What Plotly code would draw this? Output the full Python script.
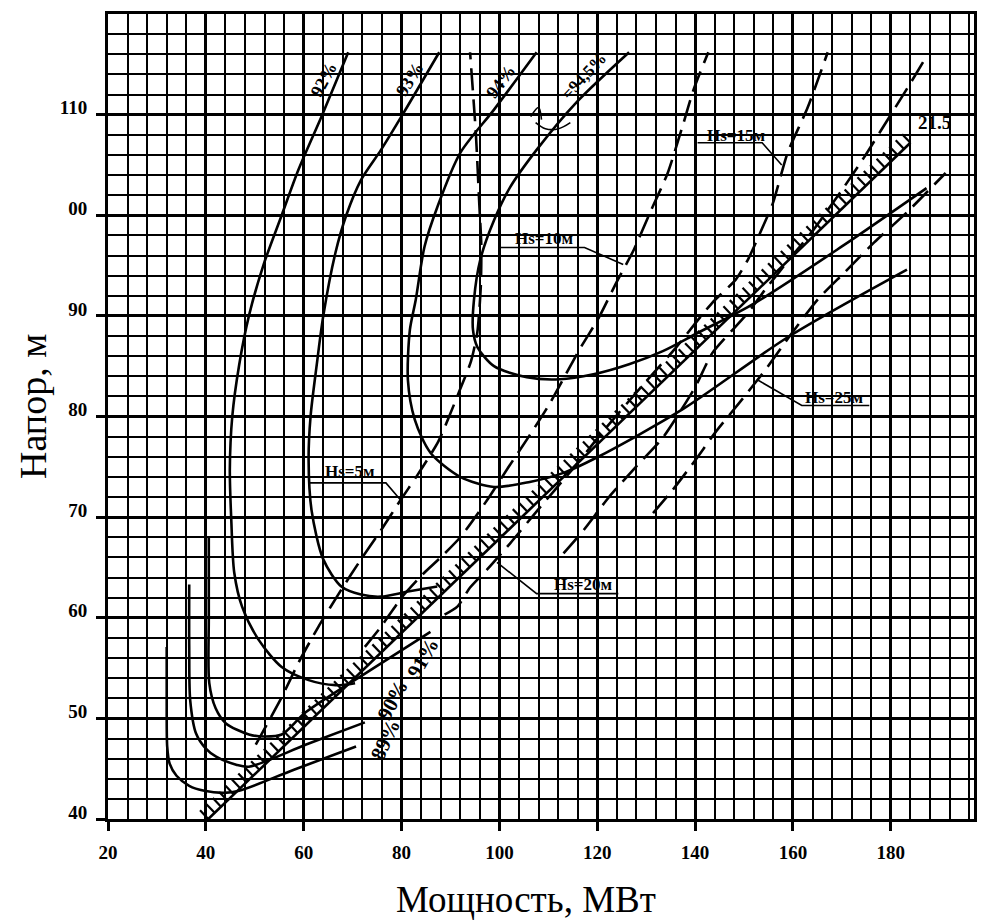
import plotly.graph_objects as go

# --- data ---
x_tick_vals = [20, 40, 60, 80, 100, 120, 140, 160, 180]
y_tick_vals = [40, 50, 60, 70, 80, 90, 100, 110]
y_tick_text = ["40", "50", "60", "70", "80", "90", "00", "110"]

# efficiency isolines (solid)
eff_89_x = [32.0, 32.0, 32.1, 32.6, 34.0, 36.6, 39.7, 43.7, 46.8, 58.0, 70.7]
eff_89_y = [57.1, 51.8, 47.2, 45.5, 44.3, 43.3, 42.8, 42.6, 42.8, 44.9, 47.2]

eff_90_x = [36.6, 36.6, 36.8, 38.0, 40.0, 42.1, 46.2, 48.8, 60.5, 72.5]
eff_90_y = [63.3, 57.0, 51.8, 48.5, 47.0, 46.2, 45.4, 45.2, 47.4, 49.6]

eff_91_x = [40.6, 40.6, 40.7, 42.0, 44.1, 48.8, 52.0, 55.5, 60.4, 73.0, 85.9]
eff_91_y = [68.0, 60.0, 53.5, 51.0, 49.5, 48.4, 48.2, 48.4, 50.6, 54.6, 58.6]

eff_92_x = [69.1, 63.8, 58.9, 55.5, 51.8, 48.8, 46.8, 45.4, 44.9, 45.2, 45.8, 47.4, 50.8, 55.5, 61.0, 66.5, 70.5]
eff_92_y = [116.2, 110.0, 104.5, 100.0, 95.1, 90.0, 85.1, 80.0, 74.7, 69.7, 64.5, 61.1, 57.8, 55.1, 53.8, 53.3, 53.5]

eff_93_x = [87.7, 80.2, 75.8, 71.7, 68.7, 66.5, 64.0, 62.6, 61.4, 61.0, 61.6, 64.0, 67.7, 71.7, 75.8, 81.3, 87.3]
eff_93_y = [116.2, 110.0, 106.5, 103.5, 100.0, 96.3, 90.0, 84.9, 80.0, 75.7, 70.7, 65.8, 63.1, 62.3, 62.1, 62.6, 63.1]

eff_94_x = [107.6, 98.9, 92.0, 87.3, 84.7, 82.9, 81.7, 81.3, 82.7, 85.9, 92.0, 98.9, 106.2, 113.1, 119.8, 137.4, 159.0, 183.3]
eff_94_y = [116.2, 110.5, 106.2, 100.8, 96.9, 91.6, 88.6, 83.6, 79.7, 76.4, 74.0, 73.0, 73.5, 74.4, 75.9, 80.7, 87.9, 94.6]

eff_945_x = [126.5, 115.7, 107.6, 102.2, 98.9, 96.1, 94.8, 94.6, 95.5, 98.9, 105.6, 112.3, 119.2, 126.5, 133.4, 140.5, 152.3, 170.0, 187.3]
eff_945_y = [116.2, 111.2, 106.5, 102.8, 99.5, 95.6, 91.6, 88.6, 86.9, 85.0, 83.9, 83.7, 84.2, 85.2, 86.5, 88.3, 91.3, 96.9, 102.7]

# limit line with hatching (21.5)
limit_x = [40.5, 184.0]
limit_y = [40.0, 107.2]

# suction head lines Hs (dashed)
hs5_x = [50.2, 55.5, 59.0, 63.0, 67.7, 71.7, 75.8, 79.8, 83.0, 87.5, 91.8, 94.2, 95.5, 96.2, 96.3, 95.9, 95.2, 94.0]
hs5_y = [47.4, 52.1, 55.6, 59.1, 62.8, 65.8, 68.7, 71.7, 74.0, 77.5, 82.5, 85.5, 88.4, 93.0, 97.0, 101.0, 108.0, 116.2]

hs10_x = [72.5, 75.8, 80.0, 84.7, 88.0, 92.0, 97.5, 101.9, 106.0, 110.3, 116.3, 120.4, 123.9, 127.5, 131.0, 134.4, 137.4, 139.7, 142.7]
hs10_y = [57.1, 59.1, 62.0, 64.5, 66.0, 68.0, 71.7, 75.0, 78.0, 81.3, 86.6, 89.9, 93.3, 96.6, 100.5, 104.2, 108.8, 112.5, 116.2]

hs15_x = [88.8, 91.4, 94.0, 97.5, 102.2, 108.0, 115.0, 122.0, 130.0, 136.0, 140.1, 143.5, 148.3, 150.8, 153.7, 155.9, 158.9, 163.0, 167.1]
hs15_y = [60.3, 61.1, 63.0, 64.8, 67.4, 70.8, 74.8, 79.0, 83.5, 86.8, 89.3, 91.3, 93.6, 95.6, 98.7, 101.2, 106.2, 110.7, 116.2]

hs20_x = [113.1, 117.2, 122.4, 127.9, 133.4, 140.1, 143.5, 150.8, 154.3, 160.4, 163.8, 170.0, 174.6, 180.0, 184.1, 187.3]
hs20_y = [66.4, 68.7, 72.0, 75.0, 77.9, 83.0, 86.3, 90.3, 92.6, 96.3, 98.3, 102.5, 105.8, 110.0, 113.2, 115.8]

hs25_x = [131.4, 135.4, 140.1, 144.1, 149.6, 154.3, 159.8, 165.0, 170.5, 176.6, 183.3, 191.2]
hs25_y = [70.4, 72.7, 75.7, 78.4, 81.7, 84.6, 88.3, 91.6, 94.3, 97.3, 100.3, 104.2]

# Hs labels: text, text position, underline ends, leader end
hs_labels = ["Hs=5м", "Hs=10м", "Hs=15м", "Hs=20м", "Hs=25м"]
hs_label_x = [69.5, 109.2, 148.4, 117.2, 168.5]
hs_label_y = [74.5, 97.7, 107.9, 63.3, 81.9]
hs_under_x0 = [61.0, 100.1, 140.5, 107.6, 161.8]
hs_under_x1 = [76.8, 117.4, 153.7, 124.3, 175.6]
hs_under_y = [73.4, 96.8, 107.2, 62.4, 81.1]
hs_leader_from_right = [True, True, True, False, False]
hs_leader_x = [79.8, 125.3, 157.7, 99.5, 152.9]
hs_leader_y = [71.7, 95.1, 105.0, 65.5, 83.6]

# efficiency labels
eff_labels = ["92%", "93%", "94%", "=94,5%", "91%", "90%", "89%"]
eff_label_x = [64.2, 81.7, 100.4, 117.2, 84.4, 78.2, 76.6]
eff_label_y = [113.5, 113.5, 113.3, 113.8, 56.0, 51.8, 47.9]
eff_label_angle = [-62, -58, -53, -47, -60, -62, -65]
eff_label_size = [18, 18, 18, 17, 21, 21, 21]

# little angle mark next to the 94.5 % line
mark_x = [106.4, 108.0, 108.6, None, 107.4, 109.4, 112.1, 114.5]
mark_y = [109.8, 110.7, 109.5, None, 109.2, 108.6, 108.6, 109.2]

# --- figure geometry (page body has an 8px margin) ---
W, H = 970, 914
M = dict(l=100, r=1, t=6, b=103)
X_RANGE = [20, 197]
Y_RANGE = [40, 120]
px_x = (W - M["l"] - M["r"]) / (X_RANGE[1] - X_RANGE[0])
px_y = (H - M["t"] - M["b"]) / (Y_RANGE[1] - Y_RANGE[0])

SERIF = "Liberation Serif"
fig = go.Figure()

line_style = dict(color="black", width=2.6)
for xs, ys in [(eff_89_x, eff_89_y), (eff_90_x, eff_90_y), (eff_91_x, eff_91_y),
               (eff_92_x, eff_92_y), (eff_93_x, eff_93_y), (eff_94_x, eff_94_y),
               (eff_945_x, eff_945_y)]:
    fig.add_trace(go.Scatter(x=xs, y=ys, mode="lines", line=dict(shape="spline", smoothing=0.8, **line_style),
                             hoverinfo="skip", showlegend=False))

dash_style = dict(color="black", width=2.6, dash="22px,9px")
for xs, ys in [(hs5_x, hs5_y), (hs10_x, hs10_y), (hs15_x, hs15_y), (hs20_x, hs20_y), (hs25_x, hs25_y)]:
    fig.add_trace(go.Scatter(x=xs, y=ys, mode="lines", line=dict(shape="spline", smoothing=0.6, **dash_style),
                             hoverinfo="skip", showlegend=False))

# limit line and its hatching (ticks perpendicular on screen)
fig.add_trace(go.Scatter(x=limit_x, y=limit_y, mode="lines", line=line_style, hoverinfo="skip", showlegend=False))
dxp = (limit_x[1] - limit_x[0]) * px_x
dyp = (limit_y[1] - limit_y[0]) * px_y
length_px = (dxp ** 2 + dyp ** 2) ** 0.5
nx, ny = -dyp / length_px, dxp / length_px  # unit normal, pointing up-left
n_ticks = int(length_px / 8.8)
tick_len = 12
hx, hy = [], []
for i in range(n_ticks + 1):
    t = i / n_ticks
    bx = limit_x[0] + t * (limit_x[1] - limit_x[0])
    by = limit_y[0] + t * (limit_y[1] - limit_y[0])
    hx += [bx, bx + nx * tick_len / px_x, None]
    hy += [by, by + ny * tick_len / px_y, None]
fig.add_trace(go.Scatter(x=hx, y=hy, mode="lines", line=dict(color="black", width=2.2),
                         hoverinfo="skip", showlegend=False))

# angle mark
fig.add_trace(go.Scatter(x=mark_x, y=mark_y, mode="lines", line=dict(color="black", width=1.6, shape="spline"),
                         hoverinfo="skip", showlegend=False))

# Hs labels with underline + leader
for i, txt in enumerate(hs_labels):
    if hs_leader_from_right[i]:
        lx = [hs_under_x0[i], hs_under_x1[i], hs_leader_x[i]]
    else:
        lx = [hs_under_x1[i], hs_under_x0[i], hs_leader_x[i]]
    ly = [hs_under_y[i], hs_under_y[i], hs_leader_y[i]]
    fig.add_trace(go.Scatter(x=lx, y=ly, mode="lines", line=dict(color="black", width=1.6),
                             hoverinfo="skip", showlegend=False))
    fig.add_annotation(x=hs_label_x[i], y=hs_label_y[i], text=txt, showarrow=False,
                       font=dict(family=SERIF, size=17, color="black", weight="bold"))

for i, txt in enumerate(eff_labels):
    fig.add_annotation(x=eff_label_x[i], y=eff_label_y[i], text=txt, showarrow=False,
                       textangle=eff_label_angle[i],
                       font=dict(family=SERIF, size=eff_label_size[i], color="black", weight="bold"))

fig.add_annotation(x=189.0, y=109.2, text="21.5", showarrow=False,
                   font=dict(family=SERIF, size=19, color="black", weight="bold"))

# axis titles
plot_w = W - M["l"] - M["r"]
plot_h = H - M["t"] - M["b"]
fig.add_annotation(xref="paper", yref="paper", x=(519 - M["l"]) / plot_w, y=0,
                   yshift=-80, yanchor="middle", text="Мощность, МВт", showarrow=False,
                   font=dict(family=SERIF, size=37, color="black"))
fig.add_annotation(xref="paper", yref="paper", x=0, xshift=-75, y=(811 - 399) / plot_h,
                   xanchor="center", yanchor="middle", textangle=-90, text="Напор, м", showarrow=False,
                   font=dict(family=SERIF, size=38, color="black"))

axis_common = dict(showline=True, linecolor="black", linewidth=2.8, mirror=True,
                   ticks="outside", ticklen=9, tickwidth=2.5, tickcolor="black",
                   gridcolor="black", gridwidth=2.8, zeroline=False, ticklabelstandoff=5,
                   tickfont=dict(family=SERIF, size=19, color="black", weight="bold"))
fig.update_xaxes(range=X_RANGE, tickvals=x_tick_vals,
                 minor=dict(dtick=4, tick0=0, showgrid=True, gridcolor="black", gridwidth=1.7, ticks=""),
                 **axis_common)
fig.update_yaxes(range=Y_RANGE, tickvals=y_tick_vals, ticktext=y_tick_text, ticklabelshift=-7,
                 minor=dict(dtick=2, tick0=0, showgrid=True, gridcolor="black", gridwidth=1.7, ticks=""),
                 **axis_common)

fig.update_layout(width=W, height=H, margin=M, plot_bgcolor="white", paper_bgcolor="white",
                  showlegend=False)

fig.write_html("out.html")
